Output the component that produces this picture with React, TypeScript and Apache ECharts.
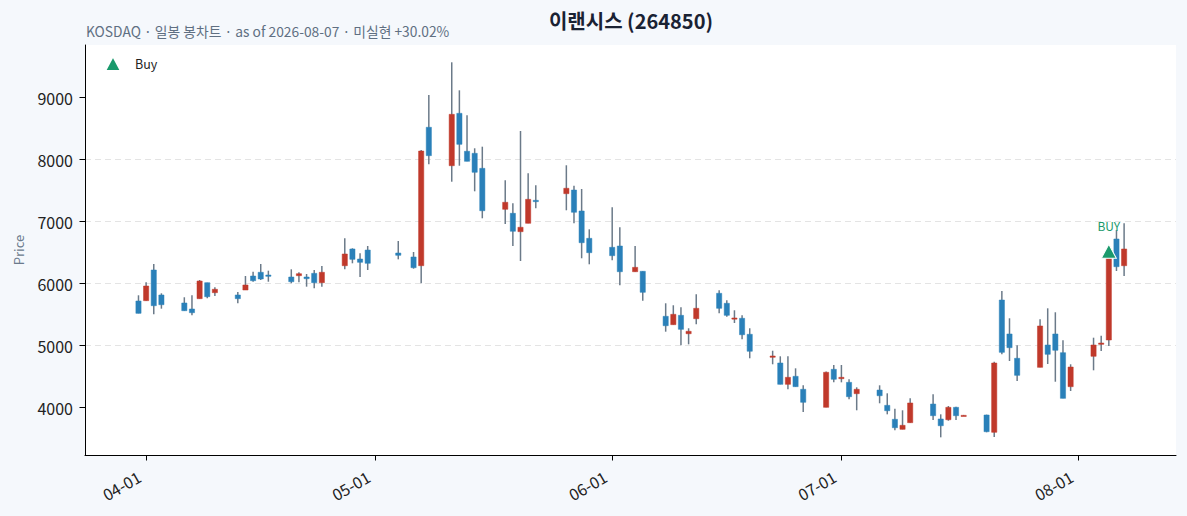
import React, { useEffect, useRef } from 'react';
import * as echarts from 'echarts';

// 일봉 데이터 (2026-03-31 ~ 2026-08-07)
const dates = [
  '2026-03-31', '2026-04-01', '2026-04-02', '2026-04-03',
  '2026-04-06', '2026-04-07', '2026-04-08', '2026-04-09', '2026-04-10',
  '2026-04-13', '2026-04-14', '2026-04-15', '2026-04-16', '2026-04-17',
  '2026-04-20', '2026-04-21', '2026-04-22', '2026-04-23', '2026-04-24',
  '2026-04-27', '2026-04-28', '2026-04-29', '2026-04-30',
  '2026-05-04', '2026-05-06', '2026-05-07', '2026-05-08',
  '2026-05-11', '2026-05-12', '2026-05-13', '2026-05-14', '2026-05-15',
  '2026-05-18', '2026-05-19', '2026-05-20', '2026-05-21', '2026-05-22',
  '2026-05-26', '2026-05-27', '2026-05-28', '2026-05-29',
  '2026-06-01', '2026-06-02', '2026-06-04', '2026-06-05',
  '2026-06-08', '2026-06-09', '2026-06-10', '2026-06-11', '2026-06-12',
  '2026-06-15', '2026-06-16', '2026-06-17', '2026-06-18', '2026-06-19',
  '2026-06-22', '2026-06-23', '2026-06-24', '2026-06-25', '2026-06-26',
  '2026-06-29', '2026-06-30', '2026-07-01', '2026-07-02', '2026-07-03',
  '2026-07-06', '2026-07-07', '2026-07-08', '2026-07-09', '2026-07-10',
  '2026-07-13', '2026-07-14', '2026-07-15', '2026-07-16', '2026-07-17',
  '2026-07-20', '2026-07-21', '2026-07-22', '2026-07-23', '2026-07-24',
  '2026-07-27', '2026-07-28', '2026-07-29', '2026-07-30', '2026-07-31',
  '2026-08-03', '2026-08-04', '2026-08-05', '2026-08-06', '2026-08-07',
];

const opens = [
  5718, 5723, 6218, 5815,
  5686, 5589, 5755, 6013, 5852,
  5815, 5895, 6121, 6181, 6137,
  6105, 6126, 6105, 6164, 6013,
  6287, 6557, 6395, 6540,
  6492, 6428, 6287, 8520,
  7900, 8745, 8133, 8100, 7858,
  7197, 7132, 6836, 6971, 7342,
  7449, 7508, 7170, 6729,
  6584, 6605, 6190, 6197,
  5471, 5336, 5487, 5190, 5432,
  5842, 5681, 5432, 5439, 5181,
  4810, 4718, 4374, 4503, 4294,
  4003, 4616, 4465, 4406, 4223,
  4282, 4035, 3810, 3648, 3755,
  4056, 3815, 3803, 4003, 3870,
  3879, 3600, 5734, 5186, 4794,
  4648, 5008, 5186, 4884, 4336,
  4826, 5019, 5089, 6718, 6287,
];

const closes = [
  5519, 5960, 5642, 5658,
  5561, 5529, 6040, 5787, 5907,
  5755, 5976, 6045, 6073, 6116,
  6029, 6158, 6078, 6013, 6181,
  6476, 6390, 6342, 6326,
  6455, 6255, 8137, 8062,
  8729, 8245, 7971, 7794, 7174,
  7310, 6842, 6907, 7358, 7320,
  7536, 7149, 6658, 6497,
  6449, 6190, 6261, 5858,
  5319, 5503, 5261, 5229, 5600,
  5600, 5487, 5444, 5174, 4907,
  4831, 4374, 4487, 4336, 4084,
  4568, 4455, 4487, 4174, 4294,
  4190, 3948, 3674, 3713, 4073,
  3868, 3706, 4003, 3868, 3874,
  3610, 4718, 4890, 4965, 4519,
  5315, 4858, 4923, 4148, 4653,
  5008, 5040, 6407, 6271, 6557,
];

const lows = [
  5519, 5723, 5503, 5594,
  5561, 5487, 5755, 5761, 5799,
  5681, 5895, 6029, 6057, 6029,
  6003, 6019, 5949, 5923, 5949,
  6229, 6326, 6105, 6218,
  6390, 6239, 6003, 7923,
  7642, 7900, 7971, 7487, 7052,
  6960, 6605, 6363, 6971, 7213,
  7181, 6971, 6407, 6310,
  6374, 5971, 6190, 5723,
  5223, 5336, 5003, 5019, 5342,
  5519, 5465, 5363, 5100, 4794,
  4697, 4374, 4294, 4336, 3927,
  4003, 4406, 4406, 4132, 3955,
  4068, 3890, 3632, 3648, 3755,
  3798, 3519, 3787, 3798, 3866,
  3600, 3524, 4858, 4750, 4427,
  4648, 4702, 4416, 4148, 4266,
  4600, 4911, 4992, 6202, 6121,
];

const highs = [
  5810, 6019, 6315, 5842,
  5778, 5810, 6057, 6013, 5939,
  5863, 6121, 6190, 6315, 6207,
  6229, 6181, 6153, 6218, 6282,
  6729, 6568, 6487, 6605,
  6686, 6508, 8153, 9041,
  9568, 9116, 8713, 8181, 8207,
  7665, 7294, 8460, 7778, 7584,
  7907, 7578, 7524, 6874,
  7229, 6907, 6605, 6197,
  5681, 5649, 5616, 5278, 5826,
  5890, 5729, 5568, 5487, 5278,
  4916, 4826, 4826, 4632, 4358,
  4580, 4686, 4686, 4455, 4326,
  4358, 4229, 3981, 3955, 4148,
  4213, 3890, 4024, 4013, 3880,
  3885, 4739, 5879, 5439, 5003,
  5423, 5600, 5536, 5084, 4697,
  5126, 5158, 6440, 6863, 6971,
];

// 매수 시점
const buyDates = ['2026-08-05'];
const buyPrices = [6520];

// 축 눈금
const monthTicks = ['2026-04-01', '2026-05-01', '2026-06-01', '2026-07-01', '2026-08-01'];
const priceTicks = [4000, 5000, 6000, 7000, 8000, 9000];

const UP = '#c0392b';
const DOWN = '#2a80b9';
const WICK = '#6b7a89';
const BUY = '#1a9a6c';
const FONT = '"Noto Sans CJK KR", "Noto Sans", sans-serif';

const toTime = (s: string) => {
  const [y, m, d] = s.split('-').map(Number);
  return new Date(y, m - 1, d).getTime();
};

const pad2 = (n: number) => String(n).padStart(2, '0');

export default function App() {
  const chartRef = useRef<HTMLDivElement>(null);

  useEffect(() => {
    const chart = echarts.init(chartRef.current!, undefined, { renderer: 'svg' });

    const candles = dates.map((d, i) => [toTime(d), opens[i], closes[i], lows[i], highs[i]]);
    const buys = buyDates.map((d, i) => [toTime(d), buyPrices[i]]);
    const xTicks = monthTicks.map(toTime);

    chart.setOption({
      animation: false,
      backgroundColor: '#f5f8fc',
      textStyle: { fontFamily: FONT },
      title: [
        {
          text: '이랜시스 (264850)',
          left: 631,
          textAlign: 'center',
          top: 10,
          padding: 0,
          textStyle: { fontSize: 20, fontWeight: 'bold', color: '#1a2233', fontFamily: FONT },
        },
        {
          text: 'KOSDAQ · 일봉 봉차트 · as of 2026-08-07 · 미실현 +30.02%',
          left: 86,
          top: 24,
          padding: 0,
          textStyle: { fontSize: 13.8, fontWeight: 'normal', color: '#5f6f82', fontFamily: FONT },
        },
      ],
      legend: {
        data: ['Buy'],
        left: 104,
        top: 55,
        padding: 0,
        icon: 'triangle',
        itemWidth: 16,
        itemHeight: 15,
        textStyle: { fontSize: 12.5, color: '#222', padding: [0, 0, 0, 9], fontFamily: FONT },
      },
      grid: {
        left: 85,
        right: 11,
        top: 45,
        bottom: 61,
        show: true,
        backgroundColor: '#ffffff',
        borderWidth: 0,
      },
      xAxis: {
        type: 'value',
        min: new Date(2026, 2, 24).getTime(),
        max: new Date(2026, 7, 13, 19).getTime(),
        axisLine: { lineStyle: { color: '#000', width: 1 } },
        axisTick: {
          length: 5.5,
          lineStyle: { color: '#000' },
          customValues: xTicks,
        },
        axisLabel: {
          rotate: 30,
          margin: 16,
          fontSize: 16,
          color: '#222',
          padding: [0, 8, 0, 0],
          customValues: xTicks,
          formatter: (v: number) => {
            const d = new Date(v);
            return `${pad2(d.getMonth() + 1)}-${pad2(d.getDate())}`;
          },
        },
        splitLine: { show: false },
      },
      yAxis: {
        type: 'value',
        min: 3234,
        max: 9847,
        name: 'Price',
        nameLocation: 'middle',
        nameGap: 60,
        nameTextStyle: { fontSize: 13, color: '#6b7a8c' },
        axisLine: { show: true, lineStyle: { color: '#000', width: 1 } },
        axisTick: {
          show: true,
          length: 5.5,
          lineStyle: { color: '#000' },
          customValues: priceTicks,
        },
        axisLabel: {
          margin: 12,
          fontSize: 16,
          color: '#222',
          customValues: priceTicks,
          formatter: (v: number) => String(v),
        },
        splitLine: {
          show: true,
          showMinLine: false,
          showMaxLine: false,
          lineStyle: { color: '#e4e4e4', type: [6, 4], width: 1 },
        },
      },
      series: [
        {
          name: 'candles',
          type: 'custom',
          data: candles,
          encode: { x: 0, y: [1, 2, 3, 4] },
          renderItem: (params: any, api: any) => {
            const t = api.value(0);
            const o = api.value(1);
            const c = api.value(2);
            const lo = api.value(3);
            const hi = api.value(4);
            const pO = api.coord([t, o]);
            const pC = api.coord([t, c]);
            const pL = api.coord([t, lo]);
            const pH = api.coord([t, hi]);
            const x = pO[0];
            const top = Math.min(pO[1], pC[1]);
            const h = Math.max(Math.abs(pO[1] - pC[1]), 1.2);
            const col = c >= o ? UP : DOWN;
            return {
              type: 'group',
              children: [
                {
                  type: 'line',
                  shape: { x1: x, y1: pH[1], x2: x, y2: pL[1] },
                  style: { stroke: WICK, lineWidth: 1.5 },
                },
                {
                  type: 'rect',
                  shape: { x: x - 2.6, y: top, width: 5.2, height: h },
                  style: { fill: col, stroke: col, lineWidth: 0.5 },
                },
              ],
            };
          },
        },
        {
          name: 'Buy',
          type: 'scatter',
          data: buys,
          symbol: 'triangle',
          symbolSize: [15, 14],
          z: 5,
          itemStyle: { color: BUY, borderColor: '#ffffff', borderWidth: 1, opacity: 1 },
          label: {
            show: true,
            formatter: 'BUY',
            position: 'top',
            distance: 12,
            color: BUY,
            fontSize: 12,
            fontFamily: FONT,
          },
        },
      ],
    });

    return () => {
      chart.dispose();
    };
  }, []);

  return (
    <div
      ref={chartRef}
      style={{ position: 'fixed', left: 0, top: 0, width: 1187, height: 516 }}
    />
  );
}
